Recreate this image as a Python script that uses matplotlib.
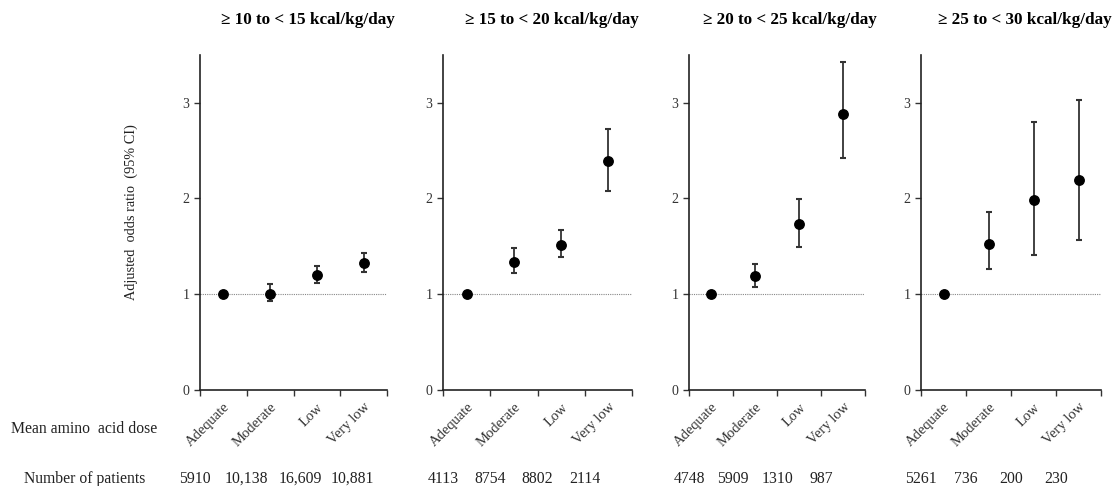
import numpy as np
import matplotlib.pyplot as plt

plt.rcParams['font.family'] = ['Liberation Serif', 'DejaVu Serif']

# data
titles = ['\u2265 10 to < 15 kcal/kg/day', '\u2265 15 to < 20 kcal/kg/day',
          '\u2265 20 to < 25 kcal/kg/day', '\u2265 25 to < 30 kcal/kg/day']
doses = ['Adequate', 'Moderate', 'Low', 'Very low']

or_10_15 = [1.00, 1.00, 1.20, 1.32]
lo_10_15 = [1.00, 0.93, 1.11, 1.23]
hi_10_15 = [1.00, 1.10, 1.29, 1.43]

or_15_20 = [1.00, 1.33, 1.51, 2.39]
lo_15_20 = [1.00, 1.22, 1.39, 2.08]
hi_15_20 = [1.00, 1.48, 1.67, 2.73]

or_20_25 = [1.00, 1.19, 1.73, 2.88]
lo_20_25 = [1.00, 1.07, 1.49, 2.42]
hi_20_25 = [1.00, 1.31, 1.99, 3.43]

or_25_30 = [1.00, 1.52, 1.98, 2.19]
lo_25_30 = [1.00, 1.26, 1.41, 1.56]
hi_25_30 = [1.00, 1.86, 2.80, 3.03]

n_10_15 = ['5910', '10,138', '16,609', '10,881']
n_15_20 = ['4113', '8754', '8802', '2114']
n_20_25 = ['4748', '5909', '1310', '987']
n_25_30 = ['5261', '736', '200', '230']

panels = [
    (or_10_15, lo_10_15, hi_10_15, n_10_15),
    (or_15_20, lo_15_20, hi_15_20, n_15_20),
    (or_20_25, lo_20_25, hi_20_25, n_20_25),
    (or_25_30, lo_25_30, hi_25_30, n_25_30),
]

W, H = 1113, 486
fig = plt.figure(figsize=(W / 100, H / 100), dpi=100)

# axes boxes in pixels (left, right)
boxes = [(200, 387), (443, 632), (689, 865), (921, 1101)]
top_px, bot_px = 55, 389.5
# the patient counts in the first panel sit a bit wider apart
count_shift = [[-0.1, 0.0, 0.15, 0.25], [0, 0, 0, 0], [0, 0, 0, 0], [0, 0, 0, 0]]

for i, ((vals, lo, hi, counts), (l, r)) in enumerate(zip(panels, boxes)):
    ax = fig.add_axes([l / W, 1 - bot_px / H, (r - l) / W, (bot_px - top_px) / H])
    x = np.arange(len(doses)) + 0.5
    vals = np.array(vals)
    err = np.array([vals - np.array(lo), np.array(hi) - vals])
    has_ci = err.sum(axis=0) > 0

    ax.axhline(1, color='#888888', lw=0.8, ls=(0, (1, 1)), zorder=1)
    ax.errorbar(x[has_ci], vals[has_ci], yerr=err[:, has_ci], fmt='none',
                ecolor='#333333', elinewidth=1.3, capsize=2.2, capthick=1.5,
                zorder=2)
    ax.plot(x, vals, 'o', color='black', ms=6.8, zorder=3)

    ax.set_xlim(0, 4)
    ax.set_ylim(0, 3.5)
    ax.set_yticks([0, 1, 2, 3])
    ax.set_xticks(np.arange(5))
    ax.set_xticklabels([])
    ax.set_xticks(x, minor=True)
    ax.set_xticklabels(doses, minor=True, rotation=45, ha='right',
                       rotation_mode='anchor', fontsize=10.5)
    ax.tick_params(axis='x', which='minor', length=0, pad=8)
    ax.tick_params(axis='both', which='major', direction='out', length=4,
                   width=1, labelsize=10, colors='#333333')
    ax.tick_params(axis='x', which='minor', labelcolor='#333333')
    for s in ['top', 'right']:
        ax.spines[s].set_visible(False)
    for s in ['left', 'bottom']:
        ax.spines[s].set_color('#222222')
        ax.spines[s].set_linewidth(1.2)

    ax.text(0.575, 1.08, titles[i], transform=ax.transAxes, ha='center',
            va='bottom', fontsize=12.3, fontweight='bold')

    for j, c in enumerate(counts):
        xc = j + count_shift[i][j]
        ax.annotate(c, xy=(xc, 0), xycoords=('data', 'figure fraction'),
                    xytext=(xc, 1 - 479 / H), textcoords=('data', 'figure fraction'),
                    ha='center', va='center', fontsize=11.3, color='#222222')

    if i == 0:
        ax.set_ylabel('Adjusted  odds ratio  (95% CI)', fontsize=10.3,
                      color='#222222')
        ax.yaxis.set_label_coords(-62 / (r - l), 0.53)

fig.text(84 / W, 1 - 429 / H, 'Mean amino  acid dose', ha='center', va='center',
         fontsize=11.3, color='#222222')
fig.text(85 / W, 1 - 479 / H, 'Number of patients', ha='center', va='center',
         fontsize=11.3, color='#222222')

fig.savefig('out.png', dpi=100, facecolor='white')
